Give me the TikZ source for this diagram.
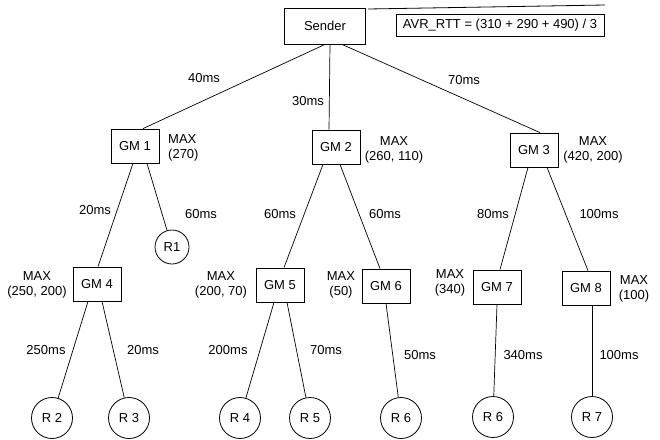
\documentclass[tikz,border=0pt]{standalone}
\usepackage{fontspec}
\setmainfont{Liberation Sans}
\begin{document}
\begin{tikzpicture}[x=1pt,y=-1pt,
  every node/.style={font=\fontsize{13}{15}\selectfont, inner sep=0pt},
  box/.style={draw, line width=0.8pt, minimum width=48pt, minimum height=34pt},
  rcv/.style={draw, circle, line width=0.8pt, minimum size=41pt},
  maxlbl/.style={align=center},
  link/.style={line width=0.7pt}]
\useasboundingbox (0,0) rectangle (660,439);

% nodes
\node[box, minimum width=81pt, minimum height=36pt] (sender) at (325,26) {Sender};
\node[draw, line width=0.8pt, minimum width=208pt, minimum height=22pt] (avr) at (500,25) {AVR\_RTT = (310 + 290 + 490) / 3};
\coordinate (artA) at (368,9);
\coordinate (artB) at (605,5);
\draw[line width=0.8pt] (artA) -- (artB);

\node[box] (gm1) at (135,146) {GM 1};
\node[box] (gm2) at (336,147) {GM 2};
\node[box] (gm3) at (534,150) {GM 3};
\node[box] (gm4) at (97,284) {GM 4};
\node[box] (gm5) at (280,285) {GM 5};
\node[box] (gm6) at (386,286) {GM 6};
\node[box] (gm7) at (497,287) {GM 7};
\node[box] (gm8) at (586,288) {GM 8};

\node[rcv, minimum size=34pt] (r1) at (172,247) {R1};
\node[rcv] (r2) at (52,418) {R 2};
\node[rcv] (r3) at (129,418) {R 3};
\node[rcv] (r4) at (240,418) {R 4};
\node[rcv] (r5) at (310,418) {R 5};
\node[rcv] (r6) at (401,418) {R 6};
\node[rcv] (r6b) at (493,417) {R 6};
\node[rcv] (r7) at (592,417) {R 7};

% connectors
\draw[link] (sender.south) -- ([xshift=8pt]gm1.north);
\draw[link] ([xshift=5pt]sender.south) -- ([xshift=-7pt]gm2.north);
\draw[link] ([xshift=17pt]sender.south) -- ([xshift=6pt]gm3.north);
\draw[link] ([xshift=-2pt]gm1.south) -- ([xshift=1pt]gm4.north);
\draw[link] ([xshift=12pt]gm1.south) -- (r1);
\draw[link] ([xshift=-13pt]gm2.south) -- ([xshift=4pt]gm5.north);
\draw[link] ([xshift=4pt]gm2.south) -- ([xshift=-6pt]gm6.north);
\draw[link] ([xshift=-6pt]gm3.south) -- ([xshift=3pt]gm7.north);
\draw[link] ([xshift=13pt]gm3.south) -- ([xshift=2pt]gm8.north);
\draw[link] ([xshift=-9pt]gm4.south) -- (r2);
\draw[link] ([xshift=5pt]gm4.south) -- (r3);
\draw[link] ([xshift=-6pt]gm5.south) -- (r4);
\draw[link] ([xshift=7pt]gm5.south) -- (r5);
\draw[link] (gm6.south) -- (r6);
\draw[link] (gm7.south) -- (r6b);
\draw[link] ([xshift=6pt]gm8.south) -- (r7.north);

% edge labels
\node (l1) at (204,78) {40ms};
\node (l2) at (308,101) {30ms};
\node (l3) at (464,80) {70ms};
\node (l4) at (95,210) {20ms};
\node (l5) at (201,214) {60ms};
\node (l6) at (280,214) {60ms};
\node (l7) at (385,214) {60ms};
\node (l8) at (493,214) {80ms};
\node (l9) at (599,214) {100ms};
\node (l10) at (46,350) {250ms};
\node (l11) at (143,350) {20ms};
\node (l12) at (228,350) {200ms};
\node (l13) at (326,350) {70ms};
\node (l14) at (420,355) {50ms};
\node (l15) at (523,355) {340ms};
\node (l16) at (619,355) {100ms};

% MAX labels
\node[maxlbl, anchor=west, align=left] (m1) at (168,148) {MAX\\(270)};
\node[maxlbl] (m2) at (394,150) {MAX\\(260, 110)};
\node[maxlbl] (m3) at (593,150) {MAX\\(420, 200)};
\node[maxlbl] (m4) at (37,285) {MAX\\(250, 200)};
\node[maxlbl] (m5) at (221,285) {MAX\\(200, 70)};
\node[maxlbl] (m6) at (341,285) {MAX\\(50)};
\node[maxlbl] (m7) at (450,283) {MAX\\(340)};
\node[maxlbl] (m8) at (634,289) {MAX\\(100)};
\end{tikzpicture}
\end{document}
